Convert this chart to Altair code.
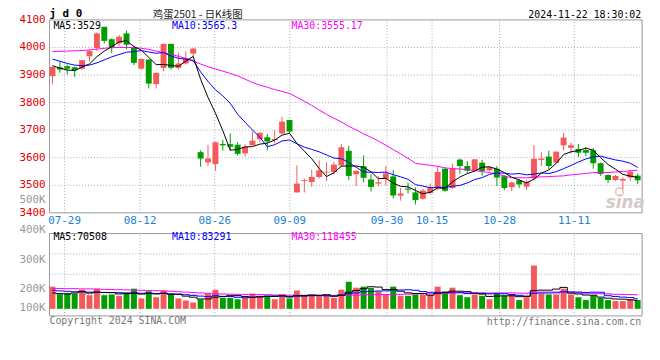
import altair as alt
import pandas as pd

# ---------------- data ----------------
opens = [3896, 3928, 3932, 3928, 3923, 3968, 3998, 4075, 4030, 4015,
         4051, 3998, 3923, 3956, 3867, 3926, 4013, 3926, 3942, 3978,
         3620, 3583, 3577, 3650, 3649, 3647, 3616, 3645, 3667, 3674,
         3664, 3688, 3737, 3474, 3516, 3512, 3530, 3546, 3548, 3572,
         3625, 3540, 3569, 3521, 3506, 3524, 3532, 3462, 3488, 3474,
         3451, 3472, 3489, 3560, 3490, 3593, 3570, 3554, 3582, 3554,
         3560, 3533, 3493, 3518, 3495, 3525, 3592, 3604, 3582, 3645,
         3636, 3632, 3628, 3627, 3580, 3537, 3519, 3517, 3528, 3535]
highs = [3930, 3950, 3938, 3930, 3956, 3992, 4055, 4075, 4033, 4045,
         4061, 4004, 3960, 3956, 3908, 4015, 4013, 3982, 3986, 3998,
         3627, 3647, 3658, 3665, 3688, 3656, 3649, 3695, 3693, 3686,
         3700, 3749, 3737, 3572, 3524, 3557, 3590, 3584, 3585, 3650,
         3643, 3555, 3608, 3540, 3533, 3570, 3555, 3490, 3510, 3492,
         3487, 3506, 3568, 3562, 3578, 3597, 3588, 3595, 3592, 3568,
         3570, 3537, 3513, 3522, 3520, 3646, 3620, 3625, 3623, 3690,
         3655, 3650, 3638, 3635, 3582, 3540, 3537, 3528, 3556, 3543]
lows = [3867, 3908, 3902, 3893, 3920, 3950, 3986, 4015, 3980, 4004,
        3994, 3936, 3920, 3851, 3851, 3914, 3920, 3920, 3938, 3967,
        3567, 3570, 3552, 3626, 3626, 3607, 3605, 3645, 3655, 3626,
        3652, 3686, 3690, 3474, 3474, 3495, 3525, 3515, 3539, 3566,
        3519, 3497, 3510, 3477, 3497, 3500, 3452, 3444, 3470, 3430,
        3448, 3467, 3482, 3476, 3487, 3542, 3545, 3550, 3535, 3550,
        3497, 3482, 3478, 3490, 3483, 3518, 3570, 3558, 3580, 3627,
        3615, 3603, 3606, 3560, 3534, 3508, 3516, 3485, 3516, 3505]
closes = [3930, 3920, 3923, 3918, 3954, 3987, 4051, 4024, 4000, 4039,
          4010, 3944, 3958, 3869, 3908, 4013, 3926, 3942, 3962, 3996,
          3597, 3597, 3656, 3645, 3640, 3614, 3640, 3662, 3690, 3659,
          3668, 3731, 3695, 3506, 3519, 3530, 3554, 3549, 3575, 3638,
          3534, 3552, 3527, 3494, 3511, 3543, 3463, 3470, 3484, 3446,
          3481, 3492, 3548, 3480, 3560, 3570, 3553, 3594, 3552, 3566,
          3528, 3490, 3510, 3503, 3512, 3596, 3597, 3570, 3622, 3673,
          3645, 3618, 3618, 3580, 3541, 3519, 3534, 3523, 3549, 3518]
# volume in thousands (K)
volumes = [139, 102, 108, 105, 124, 97, 129, 97, 100, 94,
           110, 129, 81, 116, 87, 120, 103, 81, 71, 61,
           76, 105, 124, 84, 84, 77, 84, 105, 94, 94,
           77, 102, 81, 120, 94, 94, 94, 94, 84, 124,
           163, 134, 139, 133, 116, 100, 139, 94, 94, 100,
           100, 97, 139, 116, 134, 97, 87, 100, 94, 77,
           105, 94, 100, 73, 87, 243, 105, 100, 100, 129,
           100, 87, 73, 94, 84, 73, 68, 68, 77, 73]

ma5 = [3934, 3925, 3918, 3916, 3929, 3940.4, 3966.6, 3986.8, 4003.2, 4020.2,
       4024.8, 4003.4, 3990.2, 3964, 3937.8, 3938.4, 3934.8, 3931.6, 3950.2, 3967.8,
       3884.6, 3818.8, 3761.6, 3698.2, 3627, 3630.4, 3639, 3640.2, 3649.2, 3653,
       3663.8, 3682, 3688.6, 3651.8, 3623.8, 3596.2, 3560.8, 3531.6, 3545.4, 3569.2,
       3570, 3569.6, 3565.2, 3549, 3523.6, 3525.4, 3507.6, 3496.2, 3494.2, 3481.2,
       3468.8, 3474.6, 3490.2, 3489.4, 3512.2, 3530, 3542.2, 3551.4, 3565.8, 3567,
       3558.6, 3546, 3529.2, 3519.4, 3508.6, 3522.2, 3543.6, 3555.6, 3579.4, 3611.6,
       3621.4, 3625.6, 3635.2, 3626.8, 3600.4, 3575.2, 3558.4, 3539.4, 3533.2, 3528.6]
ma10 = [3958, 3950, 3942, 3936, 3934, 3936, 3944, 3955, 3966, 3974.6,
        3982.6, 3985, 3988.5, 3983.6, 3979, 3981.6, 3969.1, 3960.9, 3957.1, 3952.8,
        3911.5, 3876.8, 3846.6, 3824.2, 3797.4, 3757.5, 3728.9, 3700.9, 3673.7, 3640,
        3647.1, 3660.5, 3664.4, 3650.5, 3638.4, 3630, 3621.4, 3610.1, 3598.6, 3596.5,
        3583.1, 3565.2, 3548.4, 3547.2, 3546.4, 3547.7, 3538.6, 3530.7, 3521.6, 3502.4,
        3497.1, 3491.1, 3493.2, 3491.8, 3496.7, 3499.4, 3508.4, 3520.8, 3527.6, 3539.6,
        3544.3, 3544.1, 3540.3, 3542.6, 3537.8, 3540.4, 3544.8, 3542.4, 3549.4, 3560.1,
        3571.8, 3584.6, 3595.4, 3603.1, 3606, 3598.3, 3592, 3587.3, 3580, 3564.5]
ma30 = [3985, 3986, 3987, 3988, 3989, 3991, 3994, 3997, 3999, 4000,
        4000, 4000, 3997, 3993, 3987, 3981, 3975, 3968, 3960, 3950,
        3940, 3930, 3922, 3914, 3906, 3897, 3885, 3873, 3863, 3855.8,
        3847.1, 3840.8, 3833.2, 3819.4, 3804.9, 3789.7, 3773.1, 3757.3, 3743.1, 3729.8,
        3713.9, 3700.8, 3686.5, 3674, 3660.7, 3645.1, 3629.6, 3613.9, 3598, 3579.6,
        3575.8, 3572.3, 3568.7, 3563.2, 3560.5, 3559, 3556.1, 3553.9, 3549.3, 3546.2,
        3541.5, 3533.5, 3527.3, 3527.2, 3527, 3529.2, 3530.6, 3531.3, 3532.9, 3534,
        3537.7, 3539.9, 3543, 3545.8, 3546.8, 3546, 3548.4, 3550.2, 3552.3, 3554.7]
vma5 = [108, 105, 103, 108, 115.6, 107.2, 112.6, 110.4, 109.4, 103.4,
        106, 106, 102.8, 106, 104.6, 106.6, 101.4, 101.4, 92.4, 87.2,
        78.4, 78.8, 87.4, 90, 94.6, 94.8, 90.6, 86.8, 88.8, 90.8,
        90.8, 94.4, 89.6, 94.8, 94.8, 98.2, 96.6, 99.2, 92, 98,
        111.8, 119.8, 128.8, 138.6, 137, 124.4, 125.4, 116.4, 108.6, 105.4,
        105.4, 97, 106, 110.4, 117.2, 116.6, 114.6, 106.8, 102.4, 91,
        92.6, 94, 94, 89.8, 91.8, 119.4, 121.6, 121.6, 127, 135.4,
        106.8, 103.2, 97.8, 96.6, 87.6, 82.2, 78.4, 77.4, 74, 71.8]
vma10 = [121, 118, 116, 114, 113, 112, 111, 110, 110, 109.5,
         106.6, 109.3, 106.6, 107.7, 104, 106.3, 103.7, 102.1, 99.2, 95.9,
         92.5, 90.1, 94.4, 91.2, 90.9, 86.6, 84.7, 87.1, 89.4, 92.7,
         92.8, 92.5, 88.2, 91.8, 92.8, 94.5, 95.5, 94.4, 93.4, 96.4,
         105, 108.2, 114, 115.3, 117.5, 118.1, 122.6, 122.6, 123.6, 121.2,
         114.9, 111.2, 111.2, 109.5, 111.3, 111, 105.8, 106.4, 106.4, 104.1,
         104.6, 104.3, 100.4, 96.1, 91.4, 106, 107.8, 107.8, 108.4, 113.6,
         113.1, 112.4, 109.7, 111.8, 111.5, 94.5, 90.8, 87.6, 85.3, 79.7]
vma30 = [130, 130, 129, 129, 128, 128, 127, 126, 125, 124,
         123, 122, 121, 120, 119, 118, 116, 114, 112, 110,
         108, 106, 104, 103, 102, 101, 100.5, 100, 100, 99.4,
         97.3, 97.3, 96.4, 96.9, 95.9, 95.8, 94.6, 94.5, 94, 95,
         96.8, 96.9, 98.9, 99.4, 100.4, 99.7, 100.9, 101.4, 102.1, 103.4,
         104.2, 104, 104.5, 105.5, 107.2, 107.9, 108, 107.8, 107.8, 107.2,
         108.2, 107.9, 108.5, 107, 106.7, 111.7, 112.1, 112.3, 112.8, 113,
         110.9, 109.3, 107.1, 105.8, 104.7, 103.8, 101.5, 100.6, 100, 99.1]

date_labels = ["07-29", "08-12", "08-26", "09-09", "09-30", "10-15", "10-28", "11-11"]
date_ticks = [1.64, 11.83, 21.91, 32.04, 45.16, 51.24, 60.36, 70.44]
price_ticks = [3400, 3500, 3600, 3700, 3800, 3900, 4000, 4100]
price_grid = [3500, 3600, 3700, 3800, 3900, 4000]
vol_tick_labels = ["400K", "300K", "200K", "100K"]
vol_grid = [100, 200, 300]

# ---------------- styling ----------------
RED = "#f55a5a"
GREEN = "#009c00"
GRID = "#aaaaaa"
BORDER = "#999999"
MONO = "DejaVu Sans Mono"
CJK = "Noto Sans CJK SC"
W, H = 600, 300
VOL_LABEL_Y = [212.7, 243, 272, 292]   # where the reference prints its volume labels

n = len(closes)
df = pd.DataFrame({
    "i": list(range(n)), "open": opens, "high": highs, "low": lows,
    "close": closes, "vol": volumes, "ma5": ma5, "ma10": ma10, "ma30": ma30,
    "vma5": vma5, "vma10": vma10, "vma30": vma30,
})

XS = alt.Scale(domain=[-0.4, 79.6], nice=False, zero=False, padding=0)
PS = alt.Scale(domain=[3400, 4100], range=[195.3, 0], nice=False, zero=False)
VS = alt.Scale(domain=[-5, 400], range=[299.7, 216.3], nice=False, zero=False)

X = alt.X("i:Q", scale=XS, axis=None)
updown = alt.condition("datum.close >= datum.open", alt.value(RED), alt.value(GREEN))
base = alt.Chart(df)

layers = []

# grid lines
pg = pd.DataFrame({"p": price_grid, "x0": -0.4, "x1": 79.6})
layers.append(alt.Chart(pg).mark_rule(color=GRID, strokeDash=[1, 2], strokeWidth=1).encode(
    x=alt.X("x0:Q", scale=XS, axis=None), x2="x1:Q", y=alt.Y("p:Q", scale=PS, axis=None)))
vg = pd.DataFrame({"v": vol_grid, "x0": -0.4, "x1": 79.6})
layers.append(alt.Chart(vg).mark_rule(color=GRID, strokeDash=[1, 2], strokeWidth=1).encode(
    x=alt.X("x0:Q", scale=XS, axis=None), x2="x1:Q", y=alt.Y("v:Q", scale=VS, axis=None)))
dg = pd.DataFrame({"d": date_ticks, "lab": date_labels, "p0": 3400, "p1": 4100, "v0": -5, "v1": 400})
layers.append(alt.Chart(dg).mark_rule(color=GRID, strokeDash=[1, 2], strokeWidth=1).encode(
    x=alt.X("d:Q", scale=XS, axis=None), y=alt.Y("p0:Q", scale=PS, axis=None), y2="p1:Q"))
layers.append(alt.Chart(dg).mark_rule(color=GRID, strokeDash=[1, 2], strokeWidth=1).encode(
    x=alt.X("d:Q", scale=XS, axis=None), y=alt.Y("v0:Q", scale=VS, axis=None), y2="v1:Q"))

# panel borders
bp = pd.DataFrame({"x0": [-0.4], "x1": [79.6], "p0": [3400], "p1": [4100], "v0": [-5], "v1": [400]})
layers.append(alt.Chart(bp).mark_rect(fill="transparent", stroke=BORDER, strokeWidth=1).encode(
    x=alt.X("x0:Q", scale=XS, axis=None), x2="x1:Q", y=alt.Y("p0:Q", scale=PS, axis=None), y2="p1:Q"))
layers.append(alt.Chart(bp).mark_rect(fill="transparent", stroke=BORDER, strokeWidth=1).encode(
    x=alt.X("x0:Q", scale=XS, axis=None), x2="x1:Q", y=alt.Y("v0:Q", scale=VS, axis=None), y2="v1:Q"))

# watermark
layers.append(alt.Chart(pd.DataFrame({"t": ["sina"]})).mark_point(
    shape="circle", size=60, color="#f2b4b4", strokeWidth=2, filled=False).encode(
    x=alt.value(577), y=alt.value(174)))
layers.append(alt.Chart(pd.DataFrame({"t": ["sina"]})).mark_text(
    align="center", baseline="middle", color="#d4caca", fontSize=17, font="DejaVu Sans",
    fontWeight="bold", fontStyle="italic").encode(x=alt.value(583), y=alt.value(185), text="t:N"))

# candles
layers.append(base.mark_rule(strokeWidth=1).encode(
    x=X, y=alt.Y("low:Q", scale=PS, axis=None), y2="high:Q", color=updown))
layers.append(base.mark_bar(size=6).encode(
    x=X, y=alt.Y("open:Q", scale=PS, axis=None), y2="close:Q", color=updown))

# price moving averages
for col, c in [("ma30", "#ff00ff"), ("ma10", "#0000ff"), ("ma5", "#000000")]:
    layers.append(base.mark_line(color=c, strokeWidth=1).encode(
        x=X, y=alt.Y(f"{col}:Q", scale=PS, axis=None)))

# volume bars
layers.append(base.mark_bar(size=6).encode(
    x=X, y=alt.Y("vol:Q", scale=VS, axis=None), y2=alt.datum(30), color=updown))
for col, c in [("vma30", "#ff00ff"), ("vma10", "#0000ff"), ("vma5", "#000000")]:
    layers.append(base.mark_line(color=c, strokeWidth=1, interpolate="step").encode(
        x=X, y=alt.Y(f"{col}:Q", scale=VS, axis=None)))

# axis labels
pt = pd.DataFrame({"p": price_ticks, "t": [str(p) for p in price_ticks]})
layers.append(alt.Chart(pt).mark_text(align="right", baseline="middle", color="#dd0000",
                                      font=MONO, fontSize=11).encode(
    x=alt.value(-4), y=alt.Y("p:Q", scale=PS, axis=None), text="t:N"))
layers.append(alt.Chart(dg).mark_text(align="center", baseline="middle", color="#1a7fd6",
                                      font=MONO, fontSize=11).encode(
    x=alt.X("d:Q", scale=XS, axis=None), y=alt.value(204), text="lab:N"))


def label(text, x, y, color, size=11, align="left", font=MONO, weight="normal",
          baseline="middle"):
    return alt.Chart(pd.DataFrame({"t": [text]})).mark_text(
        align=align, baseline=baseline, color=color, fontSize=size, font=font,
        fontWeight=weight).encode(x=alt.value(x), y=alt.value(y), text="t:N")


for t, yy in zip(vol_tick_labels, VOL_LABEL_Y):
    layers.append(label(t, -4, yy, "#999999", size=11, align="right"))

layers += [
    label("j d 0", 0, -3, "#000000", size=11, weight="bold", baseline="alphabetic"),
    label("鸡蛋2501 - 日K线图", 150, -1.5, "#222222", size=10.5, align="center", font=CJK,
          baseline="alphabetic"),
    label("2024-11-22 18:30:02", 599, -2, "#000000", size=10, align="right",
          baseline="alphabetic"),
    label("MA5:3529", 4, 6.5, "#000000", size=10),
    label("MA10:3565.3", 124, 6.5, "#0000ff", size=10),
    label("MA30:3555.17", 245, 6.5, "#ff00ff", size=10),
    label("500K", -4, 182, "#999999", size=11, align="right"),
    label("MA5:70508", 4, 220, "#000000", size=10),
    label("MA10:83291", 124, 220, "#0000ff", size=10),
    label("MA30:118455", 245, 220, "#ff00ff", size=10),
    label("Copyright 2024 SINA.COM", 0, 305, "#777777", size=10),
    label("http://finance.sina.com.cn", 599, 306, "#777777", size=10, align="right"),
]

chart = alt.layer(*layers).resolve_scale(y="independent").properties(
    width=W, height=H,
    autosize=alt.AutoSizeParams(type="none"),
    padding={"left": 42, "top": 10, "right": 10, "bottom": 22},
    background="white",
).configure_view(strokeWidth=0)

chart.save("out.html", embed_options={"renderer": "svg", "actions": False})
